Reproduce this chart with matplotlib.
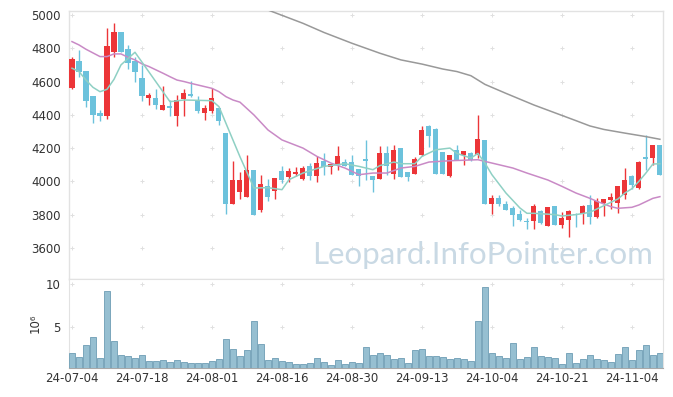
"""Candlestick chart with moving averages and volume panel."""
import matplotlib
matplotlib.use('Agg')
import matplotlib.pyplot as plt
import numpy as np

# daily OHLC, 24-07-04 .. 24-11-08
opens = [4560, 4725, 4665, 4513, 4410, 4395, 4775, 4898, 4795, 4724,
         4620, 4503, 4500, 4431, 4453, 4390, 4497, 4523, 4490, 4413,
         4425, 4440, 4293, 3866, 3938, 3908, 4068, 3828, 3972, 3944,
         4064, 4024, 4046, 4016, 4090, 4030, 4124, 4086, 4096, 4114,
         4118, 4076, 4134, 4032, 4014, 4168, 4042, 4202, 4054, 4046,
         4156, 4335, 4315, 4174, 4030, 4188, 4156, 4168, 4160, 4249,
         3864, 3900, 3864, 3840, 3804, 3764, 3764, 3824, 3730, 3854,
         3738, 3770, 3806, 3804, 3860, 3784, 3872, 3888, 3872, 3918,
         4032, 3960, 4144, 4140, 4216]
highs = [4745, 4790, 4665, 4515, 4430, 4920, 4950, 4898, 4820, 4750,
         4700, 4530, 4553, 4573, 4490, 4520, 4557, 4603, 4513, 4460,
         4560, 4440, 4293, 4123, 4055, 4158, 4068, 4038, 4016, 4018,
         4094, 4080, 4086, 4090, 4110, 4155, 4168, 4102, 4210, 4134,
         4158, 4076, 4250, 4032, 4215, 4210, 4219, 4202, 4054, 4146,
         4335, 4336, 4319, 4175, 4160, 4216, 4182, 4178, 4400, 4249,
         3916, 3916, 3880, 3850, 3826, 3778, 3866, 3830, 3846, 3854,
         3818, 3826, 3810, 3856, 3920, 3900, 3894, 3928, 3974, 4078,
         4038, 4124, 4276, 4218, 4216]
lows = [4555, 4630, 4445, 4350, 4360, 4372, 4745, 4775, 4673, 4600,
        4485, 4460, 4433, 4430, 4390, 4330, 4390, 4510, 4410, 4370,
        4410, 4340, 3802, 3866, 3892, 3905, 3798, 3818, 3880, 3892,
        3992, 3995, 4034, 4010, 4008, 3995, 4040, 4042, 4068, 4090,
        4038, 3975, 4008, 3938, 4014, 4040, 4014, 4028, 4000, 4046,
        4155, 4209, 4046, 4046, 4026, 4130, 4100, 4120, 4140, 3862,
        3804, 3850, 3828, 3734, 3760, 3712, 3712, 3746, 3730, 3738,
        3718, 3668, 3728, 3744, 3742, 3782, 3792, 3832, 3812, 3892,
        3954, 3954, 4070, 4096, 4036]
closes = [4735, 4657, 4485, 4400, 4390, 4815, 4898, 4778, 4713, 4660,
          4513, 4519, 4460, 4459, 4443, 4490, 4530, 4513, 4420, 4441,
          4500, 4360, 3866, 4008, 4008, 4068, 3800, 3984, 3908, 4018,
          4008, 4064, 4058, 4080, 4034, 4110, 4084, 4102, 4154, 4090,
          4040, 4034, 4124, 4008, 4168, 4094, 4188, 4028, 4028, 4136,
          4310, 4270, 4046, 4046, 4160, 4130, 4182, 4130, 4255, 3862,
          3900, 3862, 3828, 3800, 3770, 3754, 3854, 3748, 3846, 3738,
          3778, 3824, 3796, 3854, 3784, 3880, 3892, 3908, 3972, 4008,
          3978, 4116, 4136, 4216, 4036]

# volume in millions
volumes = [2.0, 1.53, 2.9, 3.84, 1.42, 9.15, 3.38, 1.76, 1.65, 1.42,
           1.76, 1.07, 1.07, 1.22, 0.99, 1.18, 0.95, 0.84, 0.84, 0.84,
           1.07, 1.3, 3.6, 2.45, 1.65, 2.34, 5.68, 3.03, 1.18, 1.42,
           1.11, 0.95, 0.72, 0.72, 0.84, 1.42, 0.95, 0.61, 1.22, 0.72,
           0.99, 0.88, 2.68, 1.76, 2.03, 1.76, 1.3, 1.42, 0.84, 2.34,
           2.45, 1.65, 1.65, 1.53, 1.3, 1.42, 1.3, 1.07, 5.68, 9.6,
           2.0, 1.65, 1.42, 3.14, 1.3, 1.53, 2.68, 1.65, 1.53, 1.42,
           0.72, 2.0, 0.84, 1.3, 1.76, 1.3, 1.18, 0.95, 1.88, 2.68,
           1.18, 2.34, 2.9, 1.76, 2.0]

ma_short_x = [0, 1, 2, 3, 4, 5, 6, 7, 9, 14, 16, 20, 21, 24, 26, 28, 30,
              31, 33, 36, 39, 41, 43, 44, 46, 47, 49, 50, 52, 54, 55, 57,
              58, 59, 60, 62, 64, 65, 66, 69, 70, 72, 74, 76, 78, 79, 80,
              81, 82, 83, 84]
ma_short_y = [4680, 4660, 4609, 4565, 4539, 4553, 4613, 4700, 4776, 4479,
              4489, 4485, 4449, 4148, 3960, 3962, 3950, 4010, 4050, 4090,
              4106, 4090, 4070, 4095, 4116, 4106, 4106, 4150, 4190, 4200,
              4168, 4140, 4168, 4110, 4040, 3930, 3840, 3808, 3808, 3800,
              3792, 3800, 3814, 3854, 3894, 3930, 3956, 4000, 4050, 4104,
              4106]
ma_mid_x = [0, 1, 2, 4, 5, 6, 7, 8, 9, 10, 11, 12, 13, 14, 15, 16, 17, 18,
            19, 20, 21, 22, 23, 24, 26, 28, 30, 33, 35, 37, 39, 41, 43, 45,
            47, 49, 51, 54, 58, 60, 63, 65, 68, 70, 72, 74, 75, 77, 78, 80,
            81, 83, 84]
ma_mid_y = [4840, 4820, 4794, 4750, 4750, 4766, 4766, 4746, 4730, 4706,
            4690, 4670, 4650, 4629, 4609, 4600, 4589, 4579, 4569, 4559,
            4539, 4509, 4489, 4476, 4399, 4309, 4249, 4200, 4150, 4110,
            4080, 4040, 4050, 4050, 4080, 4090, 4116, 4124, 4130, 4110,
            4080, 4050, 4008, 3970, 3930, 3898, 3880, 3848, 3838, 3844,
            3858, 3898, 3908]
ma_long_x = [27, 28, 33, 36, 40, 44, 47, 50, 53, 55, 57, 59, 62, 66, 69,
             72, 74, 76, 79, 82, 84]
ma_long_y = [5050, 5030, 4950, 4895, 4830, 4770, 4730, 4705, 4675, 4660,
             4635, 4583, 4529, 4459, 4412, 4365, 4333, 4312, 4290, 4269,
             4253]

tick_pos = [0, 10, 20, 30, 40, 50, 60, 70, 80]
tick_labels = ['24-07-04', '24-07-18', '24-08-01', '24-08-16', '24-08-30',
               '24-09-13', '24-10-04', '24-10-21', '24-11-04']
price_ticks = [3600, 3800, 4000, 4200, 4400, 4600, 4800, 5000]
vol_ticks = [5, 10]

UP = '#ec3538'
DOWN = '#6cc2dc'
EDGE = '#e2e2e2'
TXT = '#333333'

plt.rcParams['font.family'] = ['DejaVu Sans']

fig = plt.figure(figsize=(6.73, 3.97), dpi=100)
ax = fig.add_axes([0.1025, 0.2972, 0.8825, 0.6751])
axv = fig.add_axes([0.1025, 0.0723, 0.8825, 0.2249], sharex=ax)

x = np.arange(len(opens))
o = np.array(opens)
c = np.array(closes)
up = c >= o
colors = np.where(up, UP, DOWN)

# wicks and bodies
ax.vlines(x, lows, highs, colors=colors, linewidth=1.0, zorder=3)
body_bottom = np.minimum(o, c)
body_h = np.maximum(np.abs(c - o), 3)
ax.bar(x, body_h, bottom=body_bottom, width=0.72, color=colors,
       linewidth=0, zorder=4)

ax.plot(ma_long_x, ma_long_y, color='#999999', lw=1.1, zorder=5)
ax.plot(ma_mid_x, ma_mid_y, color='#c98ac6', lw=1.1, zorder=5)
ax.plot(ma_short_x, ma_short_y, color='#8fd0c4', lw=1.1, zorder=5)

ax.set_xlim(-0.43, 84.43)
ax.set_ylim(3413, 5024)
ax.set_yticks(price_ticks)
ax.tick_params(axis='y', length=0, labelsize=8.5, labelcolor=TXT, pad=6)
ax.tick_params(axis='x', length=0, labelbottom=False)
for s in ax.spines.values():
    s.set_color(EDGE)
    s.set_linewidth(1.0)

# grid crosses
gx, gy = np.meshgrid(tick_pos, price_ticks)
ax.scatter(gx.ravel(), gy.ravel(), marker='+', s=12, color='#e0e0e0',
           linewidths=0.7, zorder=1)

ax.text(0.697, 0.056, 'Leopard.InfoPointer.com', transform=ax.transAxes,
        ha='center', va='baseline', fontsize=22.5, color='#c9d9e4',
        family=['Lato', 'DejaVu Sans'], zorder=2)

# volume
axv.bar(x, volumes, width=0.86, color='#96bfd1', edgecolor='#7aa6bb',
        linewidth=0.7, zorder=3)
axv.set_ylim(0.27, 10.55)
axv.set_yticks(vol_ticks)
axv.set_xticks(tick_pos)
axv.set_xticklabels(tick_labels)
axv.tick_params(axis='both', length=0, labelsize=8.5, labelcolor=TXT)
axv.tick_params(axis='y', pad=6)
axv.tick_params(axis='x', pad=3)
axv.set_ylabel('10⁶', fontsize=8.5, color=TXT, labelpad=3)
for name, s in axv.spines.items():
    s.set_color(EDGE)
axv.spines['bottom'].set_color('#a8a8a8')
vx, vy = np.meshgrid(tick_pos, vol_ticks)
axv.scatter(vx.ravel(), vy.ravel(), marker='+', s=12, color='#e0e0e0',
            linewidths=0.7, zorder=1)

fig.savefig('out.png', dpi=100)
